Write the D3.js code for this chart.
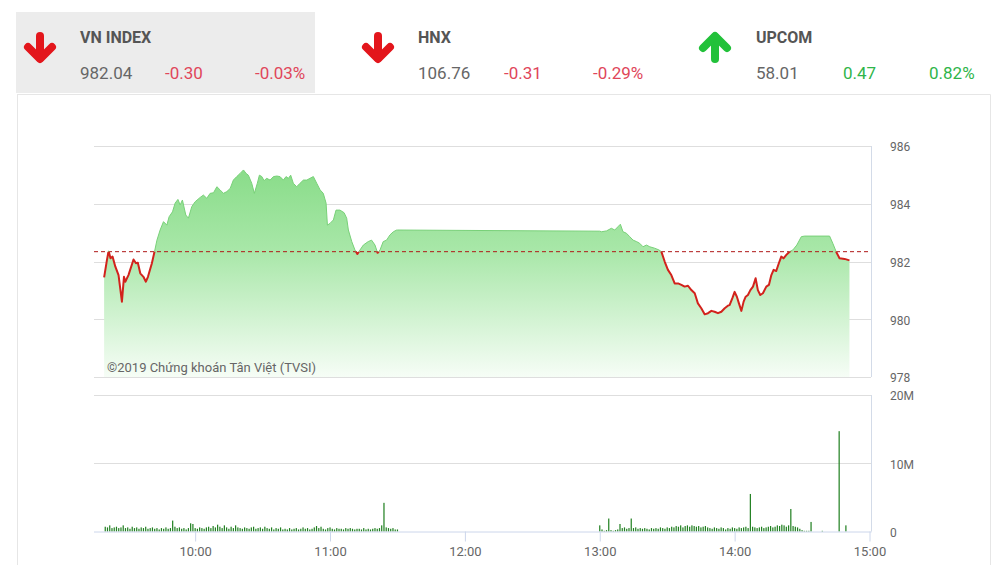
<!DOCTYPE html>
<html><head><meta charset="utf-8">
<script src="https://cdn.jsdelivr.net/npm/d3@7"></script>
<style>
html,body{margin:0;padding:0;background:#fff;}
svg{display:block;font-family:Roboto,"Noto Sans",sans-serif;}
</style></head><body><svg id="c" width="1004" height="565"></svg>
<script>
// ---------- header data ----------
const indexNames   = ["VN INDEX", "HNX", "UPCOM"];
const indexValues  = ["982.04", "106.76", "58.01"];
const indexChanges = ["-0.30", "-0.31", "0.47"];
const indexPercents= ["-0.03%", "-0.29%", "0.82%"];
const indexUp      = [false, false, true];

// ---------- price line data ----------
const referencePrice = 982.34;
const lineTimes = [
"09:19:30","09:20:45","09:21:30","09:22:20","09:23:15","09:24:30","09:25:55","09:27:25","09:28:20","09:28:55",
"09:30:20","09:32:35","09:33:40","09:34:30","09:35:35","09:37:00","09:38:05","09:39:00","09:40:45","09:41:55",
"09:43:00","09:44:25","09:45:55","09:47:25","09:48:25","09:49:55","09:51:05","09:52:20","09:53:20","09:54:20",
"09:55:50","09:57:00","09:58:30","10:00:00","10:02:15","10:03:40","10:05:10","10:06:40","10:08:10","10:09:40",
"10:11:05","10:12:35","10:14:05","10:15:35","10:17:00","10:18:30","10:20:00","10:21:30","10:22:40","10:23:40",
"10:25:10","10:26:20","10:27:40","10:28:35","10:29:40","10:30:40","10:31:50","10:33:20","10:34:50","10:36:20",
"10:37:45","10:39:15","10:40:25","10:41:30","10:42:30","10:43:40","10:45:10","10:46:40","10:48:10","10:49:40",
"10:51:05","10:52:35","10:54:05","10:55:35","10:57:00","10:58:15","10:58:50","11:00:00","11:01:30","11:02:40",
"11:04:25","11:06:15","11:07:25","11:08:10","11:09:40","11:11:05","11:12:10","11:13:20","11:14:50","11:17:00",
"11:18:30","11:20:00","11:21:10","11:22:15","11:23:40","11:25:10","11:26:40","11:28:10","11:29:40","11:30:00",
"13:00:00","13:00:45","13:03:00","13:05:10","13:06:40","13:08:10","13:09:10","13:10:20","13:11:50","13:13:20",
"13:14:50","13:16:20","13:17:45","13:19:15","13:20:45","13:22:15","13:24:25","13:26:20","13:27:25","13:28:55",
"13:30:20","13:31:50","13:33:20","13:34:50","13:36:20","13:37:45","13:39:15","13:40:45","13:42:15","13:43:40",
"13:45:10","13:46:40","13:48:10","13:49:40","13:51:05","13:52:35","13:54:05","13:55:35","13:57:00","13:57:45",
"13:59:00","14:00:00","14:01:00","14:01:55","14:03:00","14:04:00","14:04:55","14:05:55","14:07:00","14:08:10",
"14:09:20","14:10:20","14:11:25","14:12:35","14:14:05","14:15:15","14:16:20","14:17:20","14:18:30","14:19:40",
"14:20:45","14:21:45","14:23:00","14:24:25","14:25:55","14:27:40","14:29:40","14:31:05","14:42:15","14:43:40",
"14:45:10","14:46:40","14:48:55","14:51:05"
];
const lineValues = [
981.45,982.05,982.37,982.11,982.17,981.82,981.53,980.61,981.47,981.30,
981.53,982.07,981.94,981.96,981.59,981.47,981.30,981.47,981.94,982.34,
982.74,983.09,983.38,983.26,983.55,983.72,984.02,984.15,983.96,984.13,
983.61,983.50,983.90,984.07,984.22,984.30,984.19,984.36,984.38,984.59,
984.48,984.36,984.42,984.53,984.82,984.94,985.05,985.17,985.05,984.99,
984.71,984.36,984.71,984.99,984.94,984.80,984.88,984.82,984.94,984.96,
984.94,984.82,984.94,984.88,984.99,984.71,984.59,984.71,984.82,984.82,
984.88,984.94,984.71,984.48,984.36,984.02,983.26,983.32,983.44,983.78,
983.78,983.69,983.50,983.09,982.69,982.40,982.26,982.40,982.57,982.69,
982.74,982.57,982.30,982.40,982.69,982.74,982.92,983.03,983.09,983.09,
983.05,983.03,983.06,983.15,983.09,983.21,983.29,983.03,982.98,982.86,
982.74,982.69,982.63,982.51,982.57,982.51,982.46,982.40,982.34,981.99,
981.71,981.53,981.24,981.24,981.19,981.13,981.16,981.01,980.90,980.55,
980.38,980.17,980.21,980.29,980.26,980.21,980.26,980.38,980.47,980.49,
980.73,980.95,980.78,980.55,980.29,980.61,980.78,980.84,981.01,981.13,
981.42,981.01,980.84,980.90,981.13,981.19,981.53,981.71,981.67,981.94,
982.17,982.11,982.23,982.34,982.40,982.57,982.86,982.88,982.88,982.63,
982.34,982.11,982.09,982.04
];

// ---------- volume data (millions, one bar per minute) ----------
const morningStart = "09:20:00";
const morningVolume = [
0.7,0.6,0.9,0.5,0.6,0.7,0.5,0.6,0.9,0.5,
0.6,0.4,0.7,0.5,0.6,0.4,0.6,0.5,0.7,0.4,
0.5,0.6,0.4,0.5,0.3,0.5,0.4,0.6,0.4,0.5,
1.6,0.7,0.5,0.6,0.4,0.5,0.3,0.5,1.2,1.1,
0.5,0.4,0.6,0.5,0.4,0.6,0.7,0.5,0.8,0.6,
1.0,0.7,0.5,0.9,0.6,0.4,0.7,0.5,0.9,0.6,
0.5,0.4,0.6,0.5,0.4,0.6,0.7,0.4,0.5,0.6,
0.4,0.7,0.5,0.4,0.6,0.3,0.5,0.4,0.6,0.3,
0.4,0.3,0.5,0.3,0.4,0.5,0.3,0.4,0.6,0.4,
0.5,0.3,0.4,0.6,0.8,0.5,0.7,0.4,0.3,0.5,
0.6,0.4,0.3,0.5,0.4,0.4,0.3,0.5,0.4,0.5,
0.4,0.3,0.4,0.4,0.3,0.5,0.3,0.4,0.3,0.4,
0.5,0.4,0.5,0.9,4.2,0.6,0.5,0.4,0.5,0.3,
0.3
];
const afternoonStart = "13:00:00";
const afternoonVolume = [
0.9,0.3,0.1,0.2,1.9,0.2,0.1,0.2,0.3,1.1,
0.5,0.6,0.4,0.5,1.9,0.5,0.6,0.4,0.5,0.4,
0.5,0.4,0.3,0.5,0.4,0.5,0.4,0.6,0.5,0.4,
0.6,0.5,0.7,0.6,0.8,0.7,0.9,0.6,0.8,0.9,
0.7,0.9,0.8,0.7,0.8,0.6,0.7,0.8,0.6,0.5,
0.4,0.6,0.5,0.4,0.6,0.5,0.3,0.5,0.4,0.6,
0.5,0.4,0.6,0.5,0.6,0.7,0.5,5.5,0.7,0.6,
0.5,0.6,0.7,0.5,0.6,0.7,0.8,0.6,0.7,0.9,
0.8,1.0,0.9,0.7,0.9,3.3,0.8,0.7,0.6,0.4,
0.2,0.1,0.1,0.1,1.4
];
const closingTimes  = ["14:39:00","14:46:30","14:49:30"];
const closingVolume = [0.1, 14.7, 0.9];

// ---------- axis ticks ----------
const priceTicks  = [978, 980, 982, 984, 986];
const volumeTicks = [0, 10, 20];
const volumeTickLabels = ["0", "10M", "20M"];
const timeTicks   = ["10:00:00","11:00:00","12:00:00","13:00:00","14:00:00","15:00:00"];
const watermark = "©2019 Chứng khoán Tân Việt (TVSI)";

// ================= drawing =================
const svg = d3.select("#c");
const parse = d3.timeParse("%H:%M:%S");
const fmt = d3.timeFormat("%H:%M");

// header
svg.append("rect").attr("x",16).attr("y",12).attr("width",299).attr("height",81).attr("fill","#ececec");
svg.append("path").attr("d","M17,94.5H990.5V565 M17.5,94V565").attr("fill","none").attr("stroke","#e6e6e6");

const blockX = [80, 418, 756];
const changeX = [165, 504, 843];
const pctX = [255, 593, 929];
const arrowX = [40, 378, 715];
indexNames.forEach((n,i)=>{
  const up = indexUp[i];
  const col = up ? "#22c13a" : "#e3161c";
  const tcol = up ? "#2fb54a" : "#e0465a";
  const cx = arrowX[i];
  const g = svg.append("g").attr("fill","none").attr("stroke",col).attr("stroke-width",8)
     .attr("stroke-linecap","round").attr("stroke-linejoin","round");
  if(!up){
    g.append("path").attr("d",`M${cx},36V58`);
    g.append("path").attr("d",`M${cx-12},47L${cx},59L${cx+12},47`);
  } else {
    g.append("path").attr("d",`M${cx},37V59`);
    g.append("path").attr("d",`M${cx-12},48L${cx},36L${cx+12},48`);
  }
  svg.append("text").attr("x",blockX[i]).attr("y",43).text(n)
     .attr("font-size",16).attr("font-weight","bold").attr("fill","#555");
  svg.append("text").attr("x",blockX[i]).attr("y",79).text(indexValues[i])
     .attr("font-size",17).attr("fill","#666");
  svg.append("text").attr("x",changeX[i]).attr("y",79).text(indexChanges[i])
     .attr("font-size",17).attr("fill",tcol);
  svg.append("text").attr("x",pctX[i]).attr("y",79).text(indexPercents[i])
     .attr("font-size",17).attr("fill",tcol);
});

// scales
const x = d3.scaleTime().domain([parse("09:15:00"), parse("15:00:00")]).range([94, 869.5]);
const y = d3.scaleLinear().domain([978, 986]).range([377, 146]);
const yv = d3.scaleLinear().domain([0, 20]).range([531.5, 395]);
const left = 94, right = 871;

// price grid
svg.append("g").selectAll("line").data(priceTicks).join("line")
  .attr("x1",left).attr("x2",right).attr("y1",d=>Math.round(y(d))+0.5).attr("y2",d=>Math.round(y(d))+0.5)
  .attr("stroke","#dedede");

const defs = svg.append("defs");
const grad = defs.append("linearGradient").attr("id","ag").attr("gradientUnits","userSpaceOnUse")
  .attr("x1",0).attr("x2",0).attr("y1",y(986)).attr("y2",y(978));
grad.append("stop").attr("offset","0%").attr("stop-color","#80d980");
grad.append("stop").attr("offset","45%").attr("stop-color","#a8e7a8");
grad.append("stop").attr("offset","100%").attr("stop-color","#f6fdf6");

const refY = y(referencePrice);
defs.append("clipPath").attr("id","above").append("rect").attr("x",0).attr("y",0).attr("width",1004).attr("height",refY);
defs.append("clipPath").attr("id","below").append("rect").attr("x",0).attr("y",refY).attr("width",1004).attr("height",565-refY);

const data = lineTimes.map((t,i)=>({t:parse(t), v:lineValues[i]}));
const area = d3.area().x(d=>x(d.t)).y0(y(978)).y1(d=>y(d.v));
const line = d3.line().x(d=>x(d.t)).y(d=>y(d.v));

svg.append("path").datum(data).attr("d",area).attr("fill","url(#ag)");
svg.append("line").attr("x1",left).attr("x2",right).attr("y1",refY).attr("y2",refY)
  .attr("stroke","#b01818").attr("stroke-dasharray","4,3").attr("stroke-width",1);
svg.append("path").datum(data).attr("d",line).attr("fill","none").attr("stroke","#78d078")
  .attr("stroke-width",1).attr("clip-path","url(#above)");
svg.append("path").datum(data).attr("d",line).attr("fill","none").attr("stroke","#d2221c")
  .attr("stroke-width",2).attr("stroke-linejoin","round").attr("clip-path","url(#below)");

// right border of price plot
svg.append("line").attr("x1",right+0.5).attr("x2",right+0.5).attr("y1",146).attr("y2",377).attr("stroke","#d3dbe8");

// price axis labels
const ya = svg.append("g").attr("transform",`translate(${right},0)`)
  .call(d3.axisRight(y).tickValues(priceTicks).tickSize(0).tickPadding(19).tickFormat(d3.format("d")));
ya.select(".domain").remove();
ya.selectAll("text").attr("font-size",12).attr("fill","#666").attr("font-family","Roboto").attr("dy","0.4em");

// watermark
svg.append("text").attr("x",107).attr("y",372).text(watermark)
  .attr("font-size",13).attr("fill","#666");

// volume grid
svg.append("g").selectAll("line").data(volumeTicks.filter(d=>d>0)).join("line")
  .attr("x1",left).attr("x2",right).attr("y1",d=>Math.round(yv(d))+0.5).attr("y2",d=>Math.round(yv(d))+0.5)
  .attr("stroke","#dedede");
svg.append("line").attr("x1",right+0.5).attr("x2",right+0.5).attr("y1",395).attr("y2",531.5).attr("stroke","#d3dbe8");

// volume bars
const vol = [];
const ms = parse(morningStart), as = parse(afternoonStart);
morningVolume.forEach((v,i)=>vol.push({t:d3.timeMinute.offset(ms,i), v}));
afternoonVolume.forEach((v,i)=>vol.push({t:d3.timeMinute.offset(as,i), v}));
closingTimes.forEach((t,i)=>vol.push({t:parse(t), v:closingVolume[i]}));
svg.append("g").selectAll("rect").data(vol).join("rect")
  .attr("x",d=>x(d.t)-0.6).attr("width",1.2)
  .attr("y",d=>yv(d.v)).attr("height",d=>yv(0)-yv(d.v))
  .attr("fill","#1f7f1f");

// volume axis labels
const yva = svg.append("g").attr("transform",`translate(${right},0)`)
  .call(d3.axisRight(yv).tickValues(volumeTicks).tickSize(0).tickPadding(19)
    .tickFormat((d,i)=>volumeTickLabels[i]));
yva.select(".domain").remove();
yva.selectAll("text").attr("font-size",12).attr("fill","#666").attr("font-family","Roboto").attr("dy","0.4em");

// time axis
const xa = svg.append("g").attr("transform","translate(0,531.5)")
  .call(d3.axisBottom(x).tickValues(timeTicks.map(parse)).tickSize(10).tickPadding(5).tickFormat(fmt));
xa.select(".domain").attr("d",`M${left},0.5H${right+0.5}`).attr("stroke","#ccd6eb");
xa.selectAll(".tick line").attr("stroke","#ccd6eb");
xa.selectAll("text").attr("font-size",13).attr("fill","#666").attr("font-family","Roboto");
</script></body></html>
